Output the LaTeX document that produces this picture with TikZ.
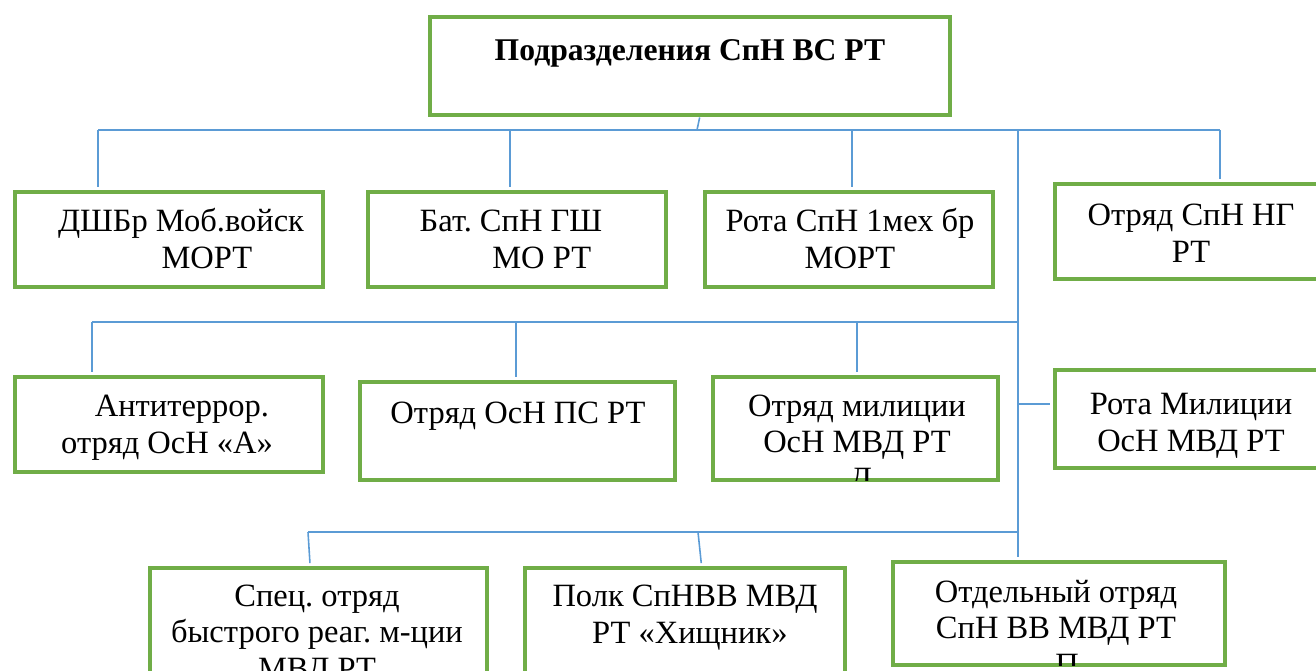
\documentclass[tikz,border=0pt]{standalone}
\usepackage{fontspec}
\setmainfont{Liberation Serif}
\usepackage{tikz}
\usetikzlibrary{fit,positioning}
\definecolor{boxgreen}{HTML}{70AD47}
\definecolor{lineblue}{HTML}{5B9BD5}
\frenchspacing

\begin{document}
\begin{tikzpicture}[x=0.02cm,y=-0.02cm,
  unit/.style={draw=boxgreen,line width=2.8pt,inner sep=0pt,rectangle},
  label/.style={anchor=base,align=center,inner sep=0pt,
    font=\fontsize{18.5}{20.5}\selectfont},
  link/.style={draw=lineblue,line width=0.9pt,shorten >=1.4pt}]
\useasboundingbox (0,0) rectangle (1316,670);

% boxes
\node[unit,fit={(430,17)(950,115)}] (top) {};
\node[unit,fit={(15,192)(323,287)}] (b1) {};
\node[unit,fit={(368,192)(666,287)}] (b2) {};
\node[unit,fit={(705,192)(993,287)}] (b3) {};
\node[unit,fit={(1055,184)(1340,279)}] (b4) {};
\node[unit,fit={(15,377)(323,472)}] (b5) {};
\node[unit,fit={(360,382)(675,480)}] (b6) {};
\node[unit,fit={(713,377)(998,480)}] (b7) {};
\node[unit,fit={(1055,370)(1340,468)}] (b8) {};
\node[unit,fit={(150,568)(487,700)}] (b9) {};
\node[unit,fit={(525,568)(845,700)}] (b10) {};
\node[unit,fit={(893,562)(1225,665)}] (b11) {};

% texts (base = last line)
\node[label,font=\fontsize{18}{20.5}\selectfont\bfseries] (t0) at (690,60) {Подразделения СпН ВС РТ};
\node[label] (t1) at (181,268) {ДШБр Моб.войск\\\hspace*{29.5pt}МОРТ};
\node[label] (t2) at (511,268) {Бат. СпН ГШ\\\hspace*{35pt}МО РТ};
\node[label] (t3) at (850,268) {Рота СпН 1мех бр\\МОРТ};
\node[label] (t4) at (1191,262) {Отряд СпН НГ\\РТ};
\node[label] (t5) at (182,453) {Антитеррор.\\отряд ОсН «А»\hspace*{17pt}};
\node[label] (t6) at (518,423) {Отряд ОсН ПС РТ};
\begin{scope}
\clip ([xshift=1.4pt,yshift=1.4pt]b7.south west) rectangle ([xshift=-1.4pt,yshift=-1.4pt]b7.north east);
\node[label] (t7) at (857,489) {Отряд милиции\\ОсН МВД РТ\hspace*{4.5pt}\\\hspace*{4.5pt}Д};
\end{scope}
\node[label] (t8) at (1191,451) {Рота Милиции\\ОсН МВД РТ};
\node[label] (t9) at (317,679) {Спец. отряд\\быстрого реаг. м-ции\\МВД РТ};
\node[label] (t10) at (685,643) {Полк СпНВВ МВД\\\hspace*{5.5pt}РТ «Хищник»};
\begin{scope}
\clip ([xshift=1.4pt,yshift=1.4pt]b11.south west) rectangle ([xshift=-1.4pt,yshift=-1.4pt]b11.north east);
\node[label] (t11) at (1056,675) {Отдельный отряд\\СпН ВВ МВД РТ\\\hspace*{12.5pt}П};
\end{scope}

% bus lines
\coordinate (k0) at (697,130);
\coordinate (j1) at (98,130);
\coordinate (j2) at (510,130);
\coordinate (j3) at (852,130);
\coordinate (jt) at (1018,130);
\coordinate (j4) at (1220,130);
\coordinate (m1) at (92,322);
\coordinate (m2) at (516,322);
\coordinate (m3) at (857,322);
\coordinate (mt) at (1018,322);
\coordinate (mr) at (1018,404);
\coordinate (n1) at (308,532);
\coordinate (n2) at (698,532);
\coordinate (nt) at (1018,532);

\draw[link,shorten >=0pt] ([xshift=5.5pt]top.south) -- (k0);
\draw[link,shorten >=0pt] (j1) -- (j4);
\draw[link] (j1) -- (j1 |- b1.north);
\draw[link] (j2) -- (j2 |- b2.north);
\draw[link] (j3) -- (j3 |- b3.north);
\draw[link] (j4) -- (j4 |- b4.north);
\draw[link] (jt) -- (jt |- b11.north);
\draw[link,shorten >=0pt] (m1) -- (mt);
\draw[link] (m1) -- (m1 |- b5.north);
\draw[link] (m2) -- (m2 |- b6.north);
\draw[link] (m3) -- (m3 |- b7.north);
\draw[link] (mr) -- (mr -| b8.west);
\draw[link,shorten >=0pt] (n1) -- (nt);
\draw[link] (n1) -- ([xshift=1.2pt]n1 |- b9.north);
\draw[link] (n2) -- ([xshift=2pt]n2 |- b10.north);
\end{tikzpicture}
\end{document}
